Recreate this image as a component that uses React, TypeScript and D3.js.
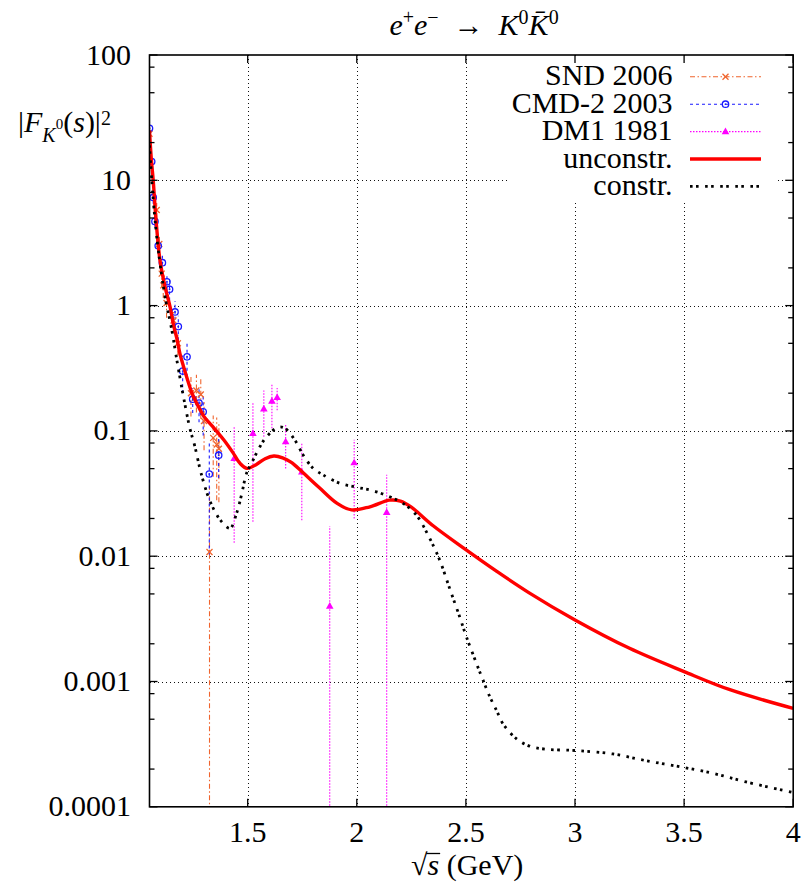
import React, { useEffect, useRef, useState } from "react";
import * as d3 from "d3";

const W = 806;
const H = 892;
const PL = 149.5, PR = 793.2, PT = 55, PB = 806.8;
const FONT = "Liberation Serif, DejaVu Serif, serif";
const FS = 30;

const xTicks = [1.5, 2, 2.5, 3, 3.5, 4];
const xTickLabels = ["1.5", "2", "2.5", "3", "3.5", "4"];
const yTicks = [1e-4, 1e-3, 1e-2, 0.1, 1, 10, 100];
const yTickLabels = ["0.0001", "0.001", "0.01", "0.1", "1", "10", "100"];
const yMinorFactors = [2, 5, 8];

// unconstrained fit (red solid)
const unconstrX = [1.05, 1.058, 1.067, 1.08, 1.098, 1.121, 1.144, 1.16, 1.175, 1.19, 1.205, 1.22, 1.25, 1.28, 1.3, 1.34, 1.39, 1.43, 1.465, 1.497, 1.54, 1.58, 1.62, 1.66, 1.7, 1.75, 1.83, 1.91, 1.976, 2.06, 2.15, 2.2, 2.25, 2.35, 2.49, 2.64, 2.79, 3.0, 3.25, 3.5, 3.71, 4.0];
const unconstrY = [25, 15, 10, 4.8, 2.3, 1.42, 0.98, 0.7, 0.55, 0.41, 0.33, 0.27, 0.19, 0.15, 0.13, 0.108, 0.085, 0.068, 0.055, 0.0502, 0.054, 0.06, 0.063, 0.061, 0.056, 0.047, 0.035, 0.0264, 0.0234, 0.0248, 0.028, 0.0275, 0.0246, 0.0175, 0.0116, 0.0076, 0.0051, 0.0031, 0.00184, 0.0012, 0.00086, 0.00061];

// constrained fit (black dotted)
const constrX = [1.05, 1.067, 1.09, 1.121, 1.152, 1.175, 1.205, 1.235, 1.258, 1.281, 1.296, 1.319, 1.35, 1.381, 1.419, 1.449, 1.472, 1.495, 1.525, 1.556, 1.587, 1.64, 1.67, 1.716, 1.754, 1.8, 1.846, 1.922, 1.999, 2.075, 2.151, 2.212, 2.273, 2.334, 2.38, 2.426, 2.471, 2.502, 2.548, 2.578, 2.609, 2.64, 2.67, 2.731, 2.792, 2.869, 3.006, 3.174, 3.327, 3.479, 3.632, 3.784, 4.0];
const constrY = [19, 7.0, 2.8, 1.18, 0.64, 0.37, 0.19, 0.105, 0.075, 0.05, 0.04, 0.03, 0.0227, 0.0188, 0.0167, 0.022, 0.031, 0.046, 0.0586, 0.0748, 0.09, 0.107, 0.105, 0.0846, 0.0643, 0.0503, 0.0445, 0.0382, 0.0355, 0.0333, 0.0298, 0.0264, 0.0213, 0.0139, 0.0093, 0.0055, 0.0033, 0.00228, 0.0014, 0.00103, 0.00076, 0.00059, 0.00046, 0.00035, 0.000305, 0.000288, 0.000281, 0.000264, 0.000233, 0.000209, 0.000185, 0.000158, 0.00013];

// SND 2006
const sndX = [1.05, 1.083, 1.095, 1.106, 1.113, 1.128, 1.16, 1.18, 1.24, 1.265, 1.285, 1.3, 1.325, 1.342, 1.358, 1.368];
const sndY = [23.5, 5.8, 3.1, 1.8, 1.45, 1.05, 0.76, 0.5, 0.2, 0.21, 0.195, 0.12, 0.0108, 0.088, 0.078, 0.072];
const sndErr = [2, 0.8, 0.5, 0.4, 0.3, 0.25, 0.15, 0.1, 0.07, 0.07, 0.07, 0.05, 0.025, 0.045, 0.05, 0.045];

// CMD-2 2003
const cmdX = [1.05, 1.06, 1.067, 1.075, 1.09, 1.109, 1.13, 1.142, 1.167, 1.182, 1.202, 1.222, 1.248, 1.277, 1.296, 1.324, 1.367];
const cmdY = [26, 14.1, 7.3, 4.7, 3.0, 2.2, 1.55, 1.35, 0.89, 0.68, 0.3, 0.39, 0.179, 0.167, 0.142, 0.0453, 0.064];
const cmdErr = [3, 1.5, 0.8, 0.5, 0.35, 0.3, 0.25, 0.25, 0.2, 0.15, 0.1, 0.12, 0.04, 0.05, 0.05, 0.035, 0.022];

// DM1 1981
const dm1X = [1.438, 1.524, 1.574, 1.611, 1.635, 1.674, 1.748, 1.876, 1.988, 2.137];
const dm1Y = [0.0604, 0.0957, 0.15, 0.173, 0.185, 0.082, 0.047, 0.004, 0.0557, 0.0224];
const dm1Lo = [0.0128, 0.0188, 0.09, 0.105, 0.146, 0.05, 0.0194, 0, 0.02, 0];
const dm1Hi = [0.11, 0.17, 0.21, 0.24, 0.22, 0.113, 0.0794, 0.0173, 0.085, 0.0446];

const legendLabels = ["SND 2006", "CMD-2 2003", "DM1 1981", "unconstr.", "constr."];

const SND_C = "#f0642d";
const CMD_C = "#1a1aff";
const DM1_C = "#ff00ff";

const SND_DASH = "5,2.5,1.5,2.5";
const CMD_DASH = "3,3";
const DM1_DASH = "1.5,1.5";
const CONSTR_DASH = "2.6,3.4,2.6,6.5";

const x = d3.scaleLinear().domain([1.05, 4]).range([PL, PR]);
const y = d3.scaleLog().domain([1e-4, 100]).range([PB, PT]);

const yOf = (v: number) => (v <= 1e-4 ? PB + 5 : y(v));
const px = (v: number) => Math.round(v) + 0.5;

const lineGen = d3
  .line<[number, number]>()
  .x((d) => x(d[0]))
  .y((d) => y(d[1]))
  .curve(d3.curveCatmullRom.alpha(0.5));

function Cross({ cx, cy }: { cx: number; cy: number }) {
  const s = 3;
  return (
    <g stroke={SND_C} strokeWidth={1.3}>
      <line x1={cx - s} y1={cy - s} x2={cx + s} y2={cy + s} />
      <line x1={cx - s} y1={cy + s} x2={cx + s} y2={cy - s} />
    </g>
  );
}
function Circ({ cx, cy }: { cx: number; cy: number }) {
  return (
    <g>
      <circle cx={cx} cy={cy} r={3.2} fill="none" stroke={CMD_C} strokeWidth={1.3} />
      <circle cx={cx} cy={cy} r={0.9} fill={CMD_C} />
    </g>
  );
}
function Tri({ cx, cy }: { cx: number; cy: number }) {
  return <path d={`M${cx},${cy - 4}L${cx + 3.8},${cy + 2.6}L${cx - 3.8},${cy + 2.6}Z`} fill={DM1_C} />;
}

function T(props: any) {
  return <text fontFamily={FONT} {...props} />;
}

export default function App() {
  const xlRef = useRef<SVGTextElement>(null);
  const [bar, setBar] = useState<[number, number] | null>(null);
  useEffect(() => {
    const t = xlRef.current;
    if (!t) return;
    try {
      const e0 = t.getExtentOfChar(0);
      const e1 = t.getExtentOfChar(1);
      setBar([e0.x + e0.width - 1.2, e1.x + e1.width + 1]);
    } catch (err) {
      setBar([431, 447]);
    }
  }, []);

  const unconstr = unconstrX.map((v, i) => [v, unconstrY[i]] as [number, number]);
  const constr = constrX.map((v, i) => [v, constrY[i]] as [number, number]);

  const gridY = yTicks.filter((v) => v > 1e-4 && v < 100);
  const gridX = xTicks.filter((v) => v < 4);
  const minorY: number[] = [];
  for (let e = -4; e < 2; e++) for (const f of yMinorFactors) minorY.push(f * Math.pow(10, e));

  const legY = (i: number) => 85.3 + 27.4 * i;
  const lx1 = 690, lx2 = 761, lxm = 725.5;

  return (
    <svg width={W} height={H} fontFamily={FONT} style={{ display: "block", position: "absolute", left: 0, top: 0 }}>
      <defs>
        <clipPath id="plotClip">
          <rect x={PL} y={PT} width={PR - PL} height={PB - PT} />
        </clipPath>
      </defs>
      <rect x={0} y={0} width={W} height={H} fill="white" />

      {/* grid */}
      <g stroke="#111" strokeWidth={1} strokeDasharray="1,3" shapeRendering="crispEdges">
        {gridY.map((v) => (
          <line key={"gy" + v} x1={PL} x2={PR} y1={px(y(v))} y2={px(y(v))} />
        ))}
        {gridX.map((v) => (
          <line key={"gx" + v} x1={px(x(v))} x2={px(x(v))} y1={PT} y2={PB} />
        ))}
      </g>

      {/* legend background */}
      <rect x={507} y={56} width={271} height={145} fill="white" />

      <g clipPath="url(#plotClip)">
        <g stroke={SND_C} strokeWidth={1.1} strokeDasharray={SND_DASH}>
          {sndX.map((v, i) => (
            <line key={"se" + i} x1={x(v)} x2={x(v)} y1={yOf(sndY[i] - sndErr[i])} y2={yOf(sndY[i] + sndErr[i])} />
          ))}
        </g>
        <g stroke={CMD_C} strokeWidth={1.1} strokeDasharray={CMD_DASH}>
          {cmdX.map((v, i) => (
            <line key={"ce" + i} x1={x(v)} x2={x(v)} y1={yOf(cmdY[i] - cmdErr[i])} y2={yOf(cmdY[i] + cmdErr[i])} />
          ))}
        </g>
        <g stroke={DM1_C} strokeWidth={1.1} strokeDasharray={DM1_DASH}>
          {dm1X.map((v, i) => (
            <line key={"de" + i} x1={x(v)} x2={x(v)} y1={yOf(dm1Lo[i])} y2={yOf(dm1Hi[i])} />
          ))}
        </g>
        {sndX.map((v, i) => (
          <Cross key={"sm" + i} cx={x(v)} cy={y(sndY[i])} />
        ))}
        {cmdX.map((v, i) => (
          <Circ key={"cm" + i} cx={x(v)} cy={y(cmdY[i])} />
        ))}
        {dm1X.map((v, i) => (
          <Tri key={"dm" + i} cx={x(v)} cy={y(dm1Y[i])} />
        ))}

        <path d={lineGen(unconstr) || ""} fill="none" stroke="#ff0000" strokeWidth={3.4} />
        <path d={lineGen(constr) || ""} fill="none" stroke="#000" strokeWidth={2.8} strokeDasharray={CONSTR_DASH} />
      </g>

      {/* frame */}
      <rect x={PL} y={PT} width={PR - PL} height={PB - PT} fill="none" stroke="#000" strokeWidth={1.6} />

      {/* ticks */}
      <g stroke="#000" strokeWidth={1.3}>
        {xTicks.map((v) => (
          <g key={"xt" + v}>
            <line x1={x(v)} x2={x(v)} y1={PB} y2={PB - 8} />
            <line x1={x(v)} x2={x(v)} y1={PT} y2={PT + 8} />
          </g>
        ))}
        {yTicks.map((v) => (
          <g key={"yt" + v}>
            <line x1={PL} x2={PL + 8} y1={y(v)} y2={y(v)} />
            <line x1={PR} x2={PR - 8} y1={y(v)} y2={y(v)} />
          </g>
        ))}
        {minorY.map((v) => (
          <g key={"ym" + v}>
            <line x1={PL} x2={PL + 5} y1={y(v)} y2={y(v)} />
            <line x1={PR} x2={PR - 5} y1={y(v)} y2={y(v)} />
          </g>
        ))}
      </g>

      {/* tick labels */}
      {xTicks.map((v, i) => (
        <T key={"xl" + v} x={x(v)} y={842} textAnchor="middle" fontSize={FS}>
          {xTickLabels[i]}
        </T>
      ))}
      {yTicks.map((v, i) => (
        <T key={"yl" + v} x={131} y={y(v) + 9.5} textAnchor="end" fontSize={FS}>
          {yTickLabels[i]}
        </T>
      ))}

      {/* title */}
      <T x={474} y={35} textAnchor="middle" fontSize={FS}>
        <tspan fontStyle="italic">e</tspan>
        <tspan fontSize={20} dy={-11}>+</tspan>
        <tspan fontStyle="italic" dy={11}>e</tspan>
        <tspan fontSize={20} dy={-11}>−</tspan>
        <tspan dy={11}>{"\u2002→\u2002"}</tspan>
        <tspan fontStyle="italic">K</tspan>
        <tspan fontSize={20} dy={-11}>0</tspan>
        <tspan fontStyle="italic" dy={11}>{"K\u0304"}</tspan>
        <tspan fontSize={20} dy={-11}>0</tspan>
      </T>

      {/* y label */}
      <T x={18} y={132} fontSize={FS}>
        <tspan>|</tspan>
        <tspan fontStyle="italic">F</tspan>
        <tspan fontStyle="italic" fontSize={20} dy={10}>K</tspan>
        <tspan fontSize={15} dy={-13}>0</tspan>
        <tspan dy={3}>(</tspan>
        <tspan fontStyle="italic">s</tspan>
        <tspan>)|</tspan>
        <tspan fontSize={20} dy={-7}>2</tspan>
      </T>

      {/* x label */}
      <text ref={xlRef} x={411} y={875} fontSize={FS} fontFamily={FONT}>
        <tspan>√</tspan>
        <tspan fontStyle="italic">s</tspan>
        <tspan> (GeV)</tspan>
      </text>
      {bar && <line x1={bar[0]} x2={bar[1]} y1={853.5} y2={853.5} stroke="#000" strokeWidth={1.3} />}

      {/* legend */}
      {legendLabels.map((l, i) => (
        <T key={"lg" + i} x={672.5} y={legY(i)} textAnchor="end" fontSize={FS}>
          {l}
        </T>
      ))}
      <g>
        <line x1={lx1} x2={lx2} y1={legY(0) - 8.5} y2={legY(0) - 8.5} stroke={SND_C} strokeWidth={1.1} strokeDasharray={SND_DASH} />
        <Cross cx={lxm} cy={legY(0) - 8.5} />
        <line x1={lx1} x2={lx2} y1={legY(1) - 8.5} y2={legY(1) - 8.5} stroke={CMD_C} strokeWidth={1.1} strokeDasharray={CMD_DASH} />
        <Circ cx={lxm} cy={legY(1) - 8.5} />
        <line x1={lx1} x2={lx2} y1={legY(2) - 8.5} y2={legY(2) - 8.5} stroke={DM1_C} strokeWidth={1.1} strokeDasharray={DM1_DASH} />
        <Tri cx={lxm} cy={legY(2) - 8.5} />
        <line x1={lx1} x2={lx2} y1={legY(3) - 8.5} y2={legY(3) - 8.5} stroke="#ff0000" strokeWidth={3.4} />
        <line x1={lx1} x2={lx2} y1={legY(4) - 8.5} y2={legY(4) - 8.5} stroke="#000" strokeWidth={2.8} strokeDasharray={CONSTR_DASH} />
      </g>
    </svg>
  );
}
